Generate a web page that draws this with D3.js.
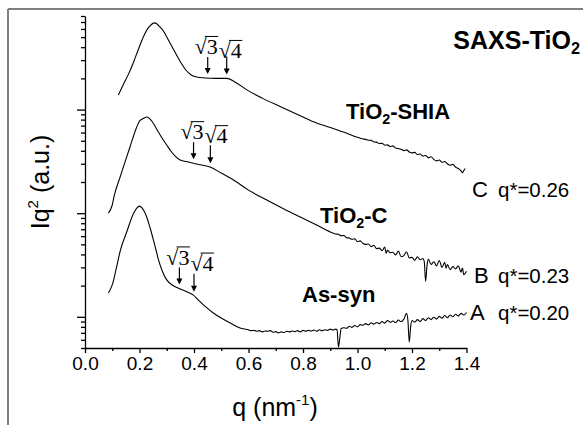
<!DOCTYPE html>
<html><head><meta charset="utf-8">
<script src="https://cdn.jsdelivr.net/npm/d3@7"></script>
<style>body{margin:0;background:#fff}svg{display:block}</style>
</head><body>
<svg id="chart" width="583" height="425"></svg>
<script>
// ---------- data ----------
const xMajorTicks = [0, 0.2, 0.4, 0.6, 0.8, 1.0, 1.2, 1.4];
const xTickLabels = ["0.0","0.2","0.4","0.6","0.8","1.0","1.2","1.4"];
const yMajorTicks = [1, 10, 100];
const seriesNames = ["As-syn", "TiO2-C", "TiO2-SHIA"];
const seriesLetters = ["A", "B", "C"];
const qStar = [0.20, 0.23, 0.26];
const peakOrders = [3, 4];

// As-syn (A)
const seriesA = [
 [0.086,1.70],[0.10,2.03],[0.116,3.03],[0.13,4.41],[0.153,6.58],[0.177,9.82],[0.19,11.2],[0.20,11.7],
 [0.21,11.2],[0.225,9.40],[0.239,7.20],[0.255,5.04],[0.27,3.53],[0.285,2.71],[0.30,2.27],[0.32,2.03],
 [0.349,1.86],[0.375,1.74],[0.398,1.62],[0.416,1.45],[0.44,1.27],[0.471,1.09],[0.50,0.974],[0.533,0.871],
 [0.569,0.780],[0.60,0.75],[0.61,0.735],[0.62,0.74],[0.63,0.725],[0.64,0.735],[0.65,0.715],[0.66,0.73],
 [0.67,0.725],[0.68,0.735],[0.69,0.71],[0.70,0.72],[0.71,0.70],[0.72,0.715],[0.73,0.705],[0.74,0.725],
 [0.75,0.715],[0.76,0.73],[0.77,0.72],[0.78,0.735],[0.79,0.715],[0.80,0.74],[0.81,0.725],[0.82,0.74],
 [0.83,0.73],[0.84,0.745],[0.85,0.725],[0.86,0.75],[0.87,0.735],[0.88,0.75],[0.89,0.74],[0.90,0.76],
 [0.91,0.745],[0.92,0.76],[0.925,0.75],[0.93,0.51],[0.935,0.62],[0.94,0.77],[0.95,0.785],[0.96,0.775],
 [0.97,0.81],[0.98,0.79],[0.99,0.825],[1.00,0.80],[1.01,0.84],[1.02,0.83],[1.03,0.86],[1.04,0.835],
 [1.05,0.875],[1.06,0.85],[1.07,0.88],[1.08,0.86],[1.09,0.90],[1.10,0.87],[1.11,0.92],[1.12,0.885],
 [1.13,0.91],[1.14,0.88],[1.15,0.93],[1.16,0.90],[1.17,0.95],[1.18,1.08],[1.185,0.92],[1.19,0.57],
 [1.195,0.80],[1.20,0.92],[1.21,0.89],[1.22,0.94],[1.23,0.90],[1.24,0.96],[1.25,0.92],[1.26,0.98],
 [1.27,0.94],[1.28,0.99],[1.29,0.95],[1.30,1.01],[1.31,0.97],[1.32,1.03],[1.33,0.98],[1.34,1.04],
 [1.35,1.00],[1.36,1.06],[1.37,1.02],[1.38,1.08],[1.39,1.04],[1.40,1.10]
];
// TiO2-C (B)
const seriesB = [
 [0.086,10.0],[0.10,12.0],[0.108,15.0],[0.129,22.4],[0.15,33.1],[0.165,43.5],[0.19,67.9],[0.20,77.6],
 [0.21,81.1],[0.227,84.9],[0.245,77.6],[0.265,63.5],[0.285,52.0],[0.30,45.5],[0.315,39.8],[0.33,35.7],
 [0.349,32.6],[0.38,31.2],[0.41,29.8],[0.459,27.9],[0.50,24.4],[0.545,20.9],[0.60,16.7],[0.667,13.4],
 [0.73,11.0],[0.79,9.19],[0.85,7.69],[0.90,6.6],[0.92,6.3],[0.93,6.25],[0.94,6.05],[0.95,6.1],
 [0.96,5.8],[0.97,5.75],[0.98,5.6],[0.99,5.65],[1.00,5.3],[1.01,5.4],[1.02,5.1],[1.03,5.0],
 [1.04,5.05],[1.05,4.75],[1.06,4.9],[1.07,4.55],[1.08,4.6],[1.09,4.35],[1.10,4.7],[1.105,4.1],
 [1.11,4.4],[1.12,4.15],[1.13,4.2],[1.14,3.95],[1.15,4.3],[1.16,3.8],[1.17,3.9],[1.18,4.25],
 [1.19,3.7],[1.20,3.75],[1.21,3.5],[1.22,3.8],[1.23,3.55],[1.24,3.65],[1.245,3.4],[1.25,2.2],
 [1.255,3.1],[1.26,3.6],[1.27,3.2],[1.28,3.4],[1.29,3.1],[1.30,3.5],[1.31,3.0],[1.32,3.35],
 [1.325,2.95],[1.33,3.2],[1.34,2.85],[1.35,3.05],[1.36,2.9],[1.37,3.1],[1.38,2.7],[1.385,2.95],
 [1.39,2.55],[1.40,2.75]
];
// TiO2-SHIA (C)
const seriesC = [
 [0.122,138],[0.14,173],[0.16,221],[0.177,282],[0.195,376],[0.214,502],[0.235,627],[0.257,686],
 [0.275,627],[0.29,561],[0.30,502],[0.32,402],[0.34,322],[0.355,275],[0.37,241],[0.39,216],
 [0.41,206],[0.44,202],[0.48,200],[0.52,200],[0.55,185],[0.594,155],[0.65,129],[0.716,107],
 [0.78,89.7],[0.838,76.4],[0.90,67.2],[0.961,59.0],[1.00,54.0],[1.02,52.0],[1.03,51.6],[1.04,50.6],
 [1.05,50.4],[1.06,48.8],[1.07,48.5],[1.08,47.0],[1.09,47.3],[1.10,45.3],[1.11,45.6],[1.12,44.0],
 [1.13,44.6],[1.14,42.5],[1.15,42.0],[1.16,41.5],[1.17,40.2],[1.18,40.8],[1.19,39.0],[1.20,38.2],
 [1.21,38.6],[1.22,36.8],[1.23,37.2],[1.24,35.6],[1.25,36.0],[1.26,34.2],[1.27,35.0],[1.28,33.0],
 [1.29,32.0],[1.30,32.6],[1.31,31.0],[1.32,31.5],[1.33,30.0],[1.34,29.0],[1.35,29.6],[1.36,27.8],
 [1.37,27.0],[1.38,25.6],[1.385,24.6],[1.39,25.8],[1.395,27.0]
];
const allSeries = [seriesA, seriesB, seriesC];

// ---------- layout ----------
const svg = d3.select("#chart");
const sans = "'Liberation Sans', Arial, sans-serif";
const serif = "'Liberation Serif', 'Times New Roman', serif";
const x = d3.scaleLinear().domain([0, 1.4]).range([85, 466.5]);
const y = d3.scaleLog().domain([0.5, 800]).range([348, 16]);

// outer frame
svg.append("line").attr("x1",8).attr("y1",9).attr("x2",583).attr("y2",9).attr("stroke","#808080").attr("stroke-width",2);
svg.append("line").attr("x1",8).attr("y1",9).attr("x2",8).attr("y2",425).attr("stroke","#808080").attr("stroke-width",2);

// y axis
const yMinor = [];
[0.1,1,10,100].forEach(d => { for (let k=2;k<=9;k++){ const v=d*k; if (v>=0.5 && v<=800) yMinor.push(v);} });
const gy = svg.append("g").attr("transform","translate(85,0)");
gy.call(d3.axisLeft(y).tickValues(yMinor).tickSize(4).tickSizeOuter(0).tickFormat(""));
gy.append("g").call(d3.axisLeft(y).tickValues(yMajorTicks).tickSize(8).tickSizeOuter(0).tickFormat("")).select(".domain").remove();
gy.selectAll("path,line").attr("stroke","#000").attr("stroke-width",1.3);

// x axis
const xMinor = d3.range(0.1, 1.41, 0.2);
const gx = svg.append("g").attr("transform","translate(0,348)");
gx.call(d3.axisBottom(x).tickValues(xMajorTicks).tickSize(5).tickSizeOuter(0).tickPadding(4)
  .tickFormat((d,i)=>xTickLabels[i]));
gx.append("g").call(d3.axisBottom(x).tickValues(xMinor).tickSize(3).tickSizeOuter(0).tickFormat("")).select(".domain").remove();
gx.selectAll("path,line").attr("stroke","#000").attr("stroke-width",1.3);
gx.selectAll("text").attr("font-family",sans).attr("font-size",19).attr("fill","#000");

// axis titles
const xt = svg.append("text").attr("x",275).attr("y",416).attr("text-anchor","middle")
  .attr("font-family",sans).attr("font-size",25).attr("fill","#000");
xt.append("tspan").text("q (nm");
xt.append("tspan").attr("font-size",15).attr("dy",-11).text("-1");
xt.append("tspan").attr("dy",11).text(")");

const yt = svg.append("text").attr("transform","translate(49,182) rotate(-90)").attr("text-anchor","middle")
  .attr("font-family",sans).attr("font-size",25).attr("fill","#000");
yt.append("tspan").text("Iq");
yt.append("tspan").attr("font-size",15).attr("dy",-11).text("2");
yt.append("tspan").attr("dy",11).text(" (a.u.)");

// curves
const line = d3.line().x(d=>x(d[0])).y(d=>y(d[1])).curve(d3.curveMonotoneX);
allSeries.forEach(s => {
  svg.append("path").datum(s).attr("d",line).attr("fill","none").attr("stroke","#000").attr("stroke-width",1.1);
});

// sqrt(n) annotations with arrows
function valueAt(s, q){
  for (let i=1;i<s.length;i++){
    if (s[i][0]>=q){
      const a=s[i-1], b=s[i], t=(q-a[0])/(b[0]-a[0]);
      return Math.exp(Math.log(a[1])+t*(Math.log(b[1])-Math.log(a[1])));
    }
  }
  return s[s.length-1][1];
}
const fsR = 22;
allSeries.forEach((s, si) => {
  let prevEnd = -Infinity, prevBase = 0;
  peakOrders.forEach((n, ni) => {
    const q = qStar[si]*Math.sqrt(n);
    const ax = x(q);
    const tip = y(valueAt(s,q)) - 4;
    const top = tip - 17 - ni*1;
    svg.append("line").attr("x1",ax).attr("x2",ax).attr("y1",top).attr("y2",tip-5).attr("stroke","#000").attr("stroke-width",1.2);
    svg.append("path").attr("d",`M${ax-3},${tip-6}L${ax+3},${tip-6}L${ax},${tip}Z`).attr("fill","#000");
    const t = svg.append("text").attr("font-family",serif).attr("font-size",fsR).attr("fill","#000").text("\u221A"+n);
    const radW = t.node().getSubStringLength(0,1);
    const totW = t.node().getComputedTextLength();
    let sx = ax - radW + (ni===0 ? -1 : 1);
    if (sx < prevEnd + 1) sx = prevEnd + 1;
    const base = ni===0 ? top - 3 : Math.max(top - 3, prevBase + 4);
    t.attr("x", sx).attr("y", base);
    svg.append("line").attr("x1",sx+radW*0.85).attr("x2",sx+totW+0.5).attr("y1",base-fsR*0.8).attr("y2",base-fsR*0.8)
      .attr("stroke","#000").attr("stroke-width",1);
    prevEnd = sx + totW; prevBase = base;
  });
});

// series name labels (bold)
function subLabel(txt, xx, yy, size, anchor){
  const t = svg.append("text").attr("x",xx).attr("y",yy).attr("text-anchor",anchor||"start")
    .attr("font-family",sans).attr("font-weight","bold").attr("font-size",size).attr("fill","#000");
  const m = txt.match(/^(.*?O)2(.*)$/);
  if (m){
    t.append("tspan").text(m[1]);
    t.append("tspan").attr("font-size",size*0.65).attr("dy",5).text("2");
    t.append("tspan").attr("dy",-5).text(m[2]);
  } else t.text(txt);
  return t;
}
subLabel("SAXS-TiO2", 580, 49, 25, "end");
subLabel(seriesNames[2], 346, 119, 22);
subLabel(seriesNames[1], 320, 223, 22);
subLabel(seriesNames[0], 302, 302, 22);

// right side letters and q*
const letterY = [320, 283, 197];
const letterX = [470, 474, 472];
[0,1,2].forEach(i => {
  svg.append("text").attr("x",letterX[i]).attr("y",letterY[i]).attr("font-family",sans)
    .attr("font-size",22).attr("fill","#000").text(seriesLetters[i]);
  svg.append("text").attr("x",498).attr("y",letterY[i]).attr("font-family",sans)
    .attr("font-size",20.5).attr("fill","#000").text(`q*=${qStar[i].toFixed(2)}`);
});
</script>
</body></html>
